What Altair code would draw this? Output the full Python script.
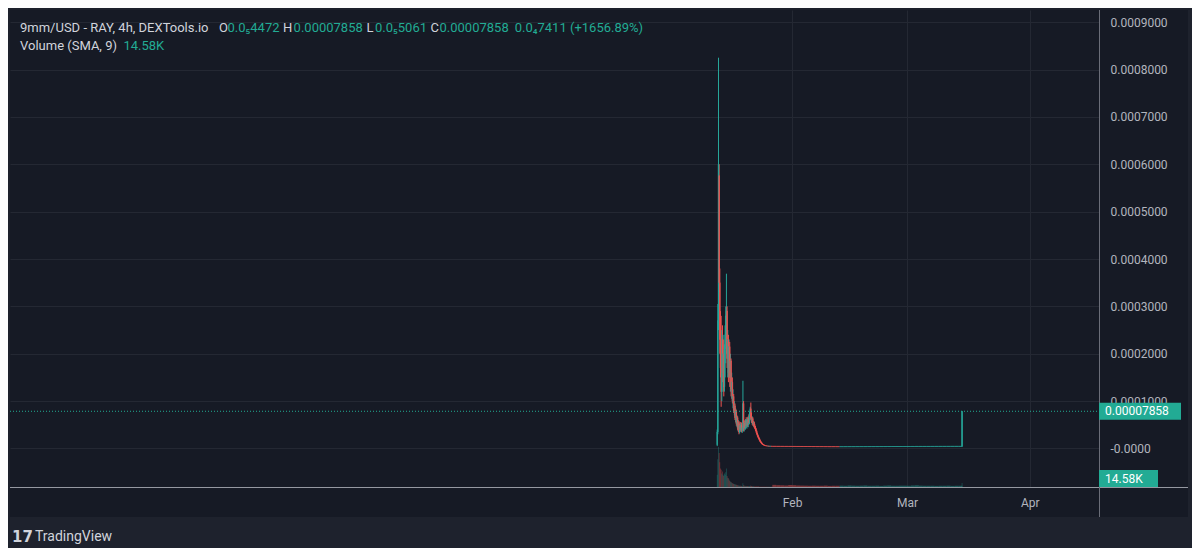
import altair as alt
import pandas as pd

# ---------------- data (prices in millionths of USD, volume in thousands) ----------------
start_4h = "2024-01-13T00:00:00Z"
open_4h_u = [8, 35, 270, 576, 350, 230, 170, 120, 230, 160,
             200, 130, 210, 240, 240, 290, 190, 230, 160, 215,
             150, 185, 125, 140, 100, 110, 80, 90, 65, 78,
             52, 65, 42, 55, 35, 48, 40, 50, 38, 44,
             95, 42, 54, 44, 58, 48, 60, 50, 64, 55,
             74, 84, 66, 58, 63, 52, 55, 47, 44, 40,
             36, 31, 27, 24, 21, 18, 15, 13, 11, 9.5,
             8.5, 7.5, 6.8, 6.2, 5.8, 5.5, 5.3, 5.1, 5.2, 4.9,
             5.0, 4.7, 4.8, 4.6]
high_4h_u = [40, 305, 825, 600, 380, 290, 280, 250, 260, 240,
             230, 220, 260, 300, 369, 300, 250, 240, 230, 225,
             200, 190, 160, 150, 125, 115, 100, 95, 85, 82,
             70, 68, 60, 58, 52, 56, 54, 55, 48, 143,
             100, 58, 60, 62, 66, 62, 66, 68, 72, 78,
             88, 97, 76, 68, 66, 58, 57, 52, 48, 43,
             38, 33, 29, 25, 22, 19, 16, 14, 12, 10,
             9, 8, 7, 6.4, 6, 5.7, 5.5, 5.4, 5.3, 5.1,
             5.1, 4.9, 4.9, 4.8]
low_4h_u = [5, 30, 250, 330, 200, 150, 88, 100, 140, 120,
            110, 120, 150, 180, 200, 170, 150, 140, 150, 130,
            120, 110, 105, 95, 85, 75, 70, 60, 55, 48,
            45, 38, 35, 30, 32, 36, 35, 34, 33, 38,
            36, 36, 40, 40, 44, 42, 46, 45, 50, 52,
            62, 60, 54, 50, 48, 46, 44, 41, 37, 33,
            29, 25, 22, 19, 16, 14, 12, 10, 9, 8,
            7.2, 6.6, 6, 5.7, 5.4, 5.2, 5.0, 4.9, 4.8, 4.7,
            4.6, 4.5, 4.5, 4.4]
close_4h_u = [35, 270, 600, 350, 230, 170, 120, 230, 160, 200,
              130, 210, 240, 280, 290, 190, 230, 160, 215, 150,
              185, 125, 140, 100, 110, 80, 90, 65, 78, 52,
              65, 42, 55, 35, 48, 40, 50, 38, 44, 95,
              42, 54, 44, 58, 48, 60, 50, 64, 55, 74,
              84, 66, 58, 63, 52, 55, 47, 44, 40, 36,
              31, 27, 24, 21, 18, 15, 13, 11, 9.5, 8.5,
              7.5, 6.8, 6.2, 5.8, 5.5, 5.3, 5.1, 5.2, 4.9, 5.0,
              4.7, 4.8, 4.6, 4.5]
vol_4h_k = [20, 45, 65, 55, 40, 30, 28, 22, 25, 20,
            18, 22, 20, 24, 30, 18, 15, 14, 12, 10,
            9, 8, 7, 6, 6, 5, 5, 4, 4, 3.5,
            3, 3, 2.5, 2.5, 2, 2, 2, 1.8, 1.8, 6,
            3, 2, 2, 1.8, 1.6, 1.6, 1.5, 1.5, 1.4, 1.6,
            2, 2, 1.5, 1.3, 1.2, 1.1, 1, 1, 0.9, 0.9,
            0.8, 0.8, 0.7, 0.7, 0.6, 0.6, 0.6, 0.5, 0.5, 0.5,
            0.5, 0.4, 0.4, 0.4, 0.4, 0.4, 0.3, 0.3, 0.3, 0.3,
            0.3, 0.3, 0.3, 0.3]

start_1d = "2024-01-27T00:00:00Z"
open_1d_u = [4.50, 4.47, 4.41, 4.38, 4.36, 4.30, 4.27, 4.24, 4.17, 4.15,
             4.11, 4.05, 4.03, 3.99, 3.93, 3.92, 3.89,
             3.86, 3.87, 3.91, 3.91, 3.95, 3.98, 3.98, 4.02, 4.05, 4.05,
             4.08, 4.12, 4.12, 4.15, 4.18, 4.19, 4.21, 4.24, 4.24, 4.27,
             4.30, 4.31, 4.33, 4.36, 4.36, 4.39, 4.41, 4.42, 4.44, 4.45, 4.46]
high_1d_u = [4.55, 4.50, 4.45, 4.40, 4.38, 4.33, 4.30, 4.26, 4.20, 4.18,
             4.14, 4.08, 4.06, 4.02, 3.96, 3.94, 3.92,
             3.90, 3.93, 3.94, 3.97, 4.00, 4.01, 4.04, 4.07, 4.08, 4.10,
             4.14, 4.15, 4.17, 4.20, 4.22, 4.23, 4.26, 4.27, 4.29, 4.32,
             4.34, 4.35, 4.38, 4.39, 4.41, 4.43, 4.45, 4.46, 4.48, 4.49, 4.50]
low_1d_u = [4.44, 4.39, 4.35, 4.33, 4.28, 4.25, 4.21, 4.15, 4.12, 4.08,
            4.03, 4.00, 3.96, 3.91, 3.89, 3.86, 3.84,
            3.84, 3.85, 3.89, 3.89, 3.93, 3.96, 3.96, 4.00, 4.03, 4.03,
            4.06, 4.10, 4.10, 4.13, 4.16, 4.17, 4.19, 4.22, 4.22, 4.25,
            4.28, 4.29, 4.31, 4.34, 4.34, 4.37, 4.39, 4.40, 4.42, 4.43, 4.44]
close_1d_u = [4.47, 4.41, 4.38, 4.36, 4.30, 4.27, 4.24, 4.17, 4.15, 4.11,
              4.05, 4.03, 3.99, 3.93, 3.92, 3.89, 3.86,
              3.87, 3.91, 3.91, 3.95, 3.98, 3.98, 4.02, 4.05, 4.05, 4.08,
              4.12, 4.12, 4.15, 4.18, 4.19, 4.21, 4.24, 4.24, 4.27, 4.30,
              4.31, 4.33, 4.36, 4.36, 4.39, 4.41, 4.42, 4.44, 4.45, 4.46, 4.47]
vol_1d_k = [3.5, 3.0, 2.8, 2.5, 3.2, 3.0, 2.5, 2.3, 2.2, 2.0,
            2.2, 2.0, 2.0, 2.3, 1.8, 2.0, 2.0, 2.2, 2.0, 2.5,
            2.2, 2.0, 2.2, 2.5, 2.0, 2.0, 2.2, 1.8, 2.2, 2.5,
            2.0, 2.0, 2.2, 2.2, 2.0, 2.5, 2.8, 2.2, 2.0, 2.0,
            2.0, 1.8, 2.0, 2.0, 2.2, 1.8, 2.0, 2.0]

last_time = "2024-03-14T20:00:00Z"
last_open_u, last_high_u, last_low_u, last_close_u, last_vol_k = 4.472, 78.58, 4.472, 78.58, 6.5

price_ticks = [0.0, 0.0001, 0.0002, 0.0003, 0.0004, 0.0005, 0.0006, 0.0007, 0.0008, 0.0009]
month_ticks = [(2024, 2), (2024, 3), (2024, 4)]
last_price = 0.00007858
last_price_label = "0.00007858"
vol_sma_label = "14.58K"

header_line1 = ["9mm/USD - RAY, 4h, DEXTools.io", "O", "0.0\u20854472", "H", "0.00007858",
                "L", "0.0\u20855061", "C", "0.00007858", "0.0\u20847411 (+1656.89%)"]
header_line2 = ["Volume (SMA, 9)", "14.58K"]
brand = "TradingView"

# ---------------- style ----------------
BG = "#161a25"
FRAME = "#1e222d"
GRID = "#242833"
AXT = "#b2b5be"
TXT = "#d1d4dc"
GREEN = "#26a69a"
RED = "#ef5350"
TEAL = "#22ab94"
FONT = "Roboto"
W, H = 1089, 477

Y_DOM = [-0.0000813, 0.0009257]
yscale = alt.Scale(domain=Y_DOM, nice=False, zero=False)
xscale = alt.Scale(type="utc", nice=False,
                   domain=[alt.DateTime(year=2023, month=7, date=18, hours=12, utc=True),
                           alt.DateTime(year=2024, month=4, date=18, hours=12, utc=True)])
cscale = alt.Scale(domain=["up", "down"], range=[GREEN, RED])

# ---------------- table ----------------
rows = []
def add(s, hours, o, h, l, c, v):
    e = s + pd.Timedelta(hours=hours)
    m = s + pd.Timedelta(hours=hours / 2)
    f = "%Y-%m-%dT%H:%M:%SZ"
    rows.append(dict(t=s.strftime(f), t_end=e.strftime(f), t_mid=m.strftime(f),
                     open=o * 1e-6, high=h * 1e-6, low=l * 1e-6, close=c * 1e-6,
                     vol=v, vol0=0, dir="up" if c >= o else "down"))

t0 = pd.Timestamp(start_4h)
for i in range(len(open_4h_u)):
    add(t0 + pd.Timedelta(hours=4 * i), 4, open_4h_u[i], high_4h_u[i], low_4h_u[i], close_4h_u[i], vol_4h_k[i])
t1 = pd.Timestamp(start_1d)
for i in range(len(open_1d_u)):
    add(t1 + pd.Timedelta(days=i), 24, open_1d_u[i], high_1d_u[i], low_1d_u[i], close_1d_u[i], vol_1d_k[i])
add(pd.Timestamp(last_time), 4, last_open_u, last_high_u, last_low_u, last_close_u, last_vol_k)
df = pd.DataFrame(rows)

base = alt.Chart(df)

xaxis = alt.Axis(values=[alt.DateTime(year=y, month=m, date=1, utc=True) for y, m in month_ticks],
                 labelExpr="utcFormat(datum.value, '%b')", grid=True, gridColor=GRID, gridWidth=1,
                 ticks=False, tickSize=0, domain=False, labelColor=AXT, labelFontSize=12,
                 labelPadding=10, labelFont=FONT, title=None)
yaxis = alt.Axis(orient="right", values=price_ticks,
                 labelExpr="datum.value == 0 ? '-0.0000' : format(datum.value, '.7f')",
                 grid=True, gridColor=GRID, gridWidth=1, ticks=False, tickSize=0, domain=False,
                 labelAlign="left", labelBaseline="middle", labelPadding=11, labelColor=AXT,
                 labelFontSize=12, labelFont=FONT, labelFlush=False, labelOverlap=False, title=None)

volume = base.mark_rect(opacity=0.45).encode(
    x=alt.X("t:T", scale=xscale, axis=xaxis), x2="t_end:T",
    y=alt.Y("vol:Q", scale=alt.Scale(domain=[0, 773], nice=False), axis=None), y2="vol0:Q",
    color=alt.Color("dir:N", scale=cscale, legend=None))

wicks = base.mark_rule(strokeWidth=1).encode(
    x=alt.X("t_mid:T", scale=xscale, axis=xaxis),
    y=alt.Y("low:Q", scale=yscale, axis=yaxis), y2="high:Q",
    color=alt.Color("dir:N", scale=cscale, legend=None))

bodies = base.mark_rect(strokeWidth=0.6).encode(
    x=alt.X("t:T", scale=xscale, axis=xaxis), x2="t_end:T",
    y=alt.Y("open:Q", scale=yscale, axis=None), y2="close:Q",
    color=alt.Color("dir:N", scale=cscale, legend=None),
    stroke=alt.Stroke("dir:N", scale=cscale, legend=None))

px = (Y_DOM[1] - Y_DOM[0]) / H
pdf = pd.DataFrame({"price": [last_price], "top": [last_price + 8.5 * px],
                    "bot": [last_price - 8.5 * px], "label": [last_price_label]})
pline = alt.Chart(pdf).mark_rule(strokeDash=[1, 2], strokeWidth=1, color=TEAL).encode(
    x=alt.value(0), x2=alt.value(W), y=alt.Y("price:Q", scale=yscale, axis=None))
pbox = alt.Chart(pdf).mark_rect(color=TEAL).encode(
    x=alt.value(W), x2=alt.value(W + 82),
    y=alt.Y("top:Q", scale=yscale, axis=None), y2="bot:Q")
ptext = alt.Chart(pdf).mark_text(align="left", baseline="middle", color="#ffffff",
                                 fontSize=12, font=FONT).encode(
    x=alt.value(W + 6), y=alt.Y("price:Q", scale=yscale, axis=None), text="label:N")


def one(txt):
    return alt.Chart(pd.DataFrame({"s": [txt]}))

vbox = one(vol_sma_label).mark_rect(color=TEAL).encode(
    x=alt.value(W), x2=alt.value(W + 59), y=alt.value(460), y2=alt.value(477))
vtext = one(vol_sma_label).mark_text(align="left", baseline="middle", color="#ffffff",
                                     fontSize=12, font=FONT).encode(
    x=alt.value(W + 6), y=alt.value(468.5), text="s:N")

# frame & axis lines (decoration)
frame_parts = [(-2, 1182, 507, 540), (-2, 1182, -2, 0), (-2, 0, -2, 540), (1178, 1182, -2, 540)]
frames = [one("f").mark_rect(color=FRAME).encode(x=alt.value(a), x2=alt.value(b),
                                                 y=alt.value(c), y2=alt.value(d))
          for a, b, c, d in frame_parts]
hline = one("h").mark_rule(color="#9598a1", strokeWidth=1.2).encode(
    x=alt.value(0), x2=alt.value(1178), y=alt.value(477.5))
vline = one("v").mark_rule(color="#6a6d78", strokeWidth=1).encode(
    x=alt.value(W + 0.5), y=alt.value(0), y2=alt.value(507))

# header text
xs1 = [10, 209, 217.5, 273, 283.6, 356.5, 365, 420.5, 429.5, 504.7]
cols1 = [TXT, TXT, TEAL, TXT, TEAL, TXT, TEAL, TXT, TEAL, TEAL]
heads = [one(t).mark_text(align="left", baseline="middle", fontSize=13, font=FONT, color=c).encode(
    x=alt.value(x), y=alt.value(18), text="s:N") for t, x, c in zip(header_line1, xs1, cols1)]
heads += [one(t).mark_text(align="left", baseline="middle", fontSize=13, font=FONT, color=c).encode(
    x=alt.value(x), y=alt.value(36), text="s:N")
    for t, x, c in zip(header_line2, [10, 113.4], [TXT, TEAL])]

logo = one("17").mark_text(align="left", baseline="middle", fontSize=15, font="DejaVu Sans",
                           fontWeight="bold", color=TXT).encode(
    x=alt.value(2), y=alt.value(527), text="s:N")
brand_t = one(brand).mark_text(align="left", baseline="middle", fontSize=14, font=FONT,
                               color=TXT).encode(x=alt.value(25), y=alt.value(527), text="s:N")

chart = alt.layer(
    volume, wicks, bodies, pline, *frames, hline, vline, pbox, ptext, vbox, vtext,
    *heads, logo, brand_t
).resolve_scale(y="independent").properties(
    width=W, height=H, background=BG,
    padding={"left": 2, "top": 2, "right": 1184 - 2 - W, "bottom": 540 - 2 - H},
    autosize=alt.AutoSizeParams(type="none"),
).configure_view(stroke=None)

chart.save("out.html", embed_options={"renderer": "svg", "actions": False})
